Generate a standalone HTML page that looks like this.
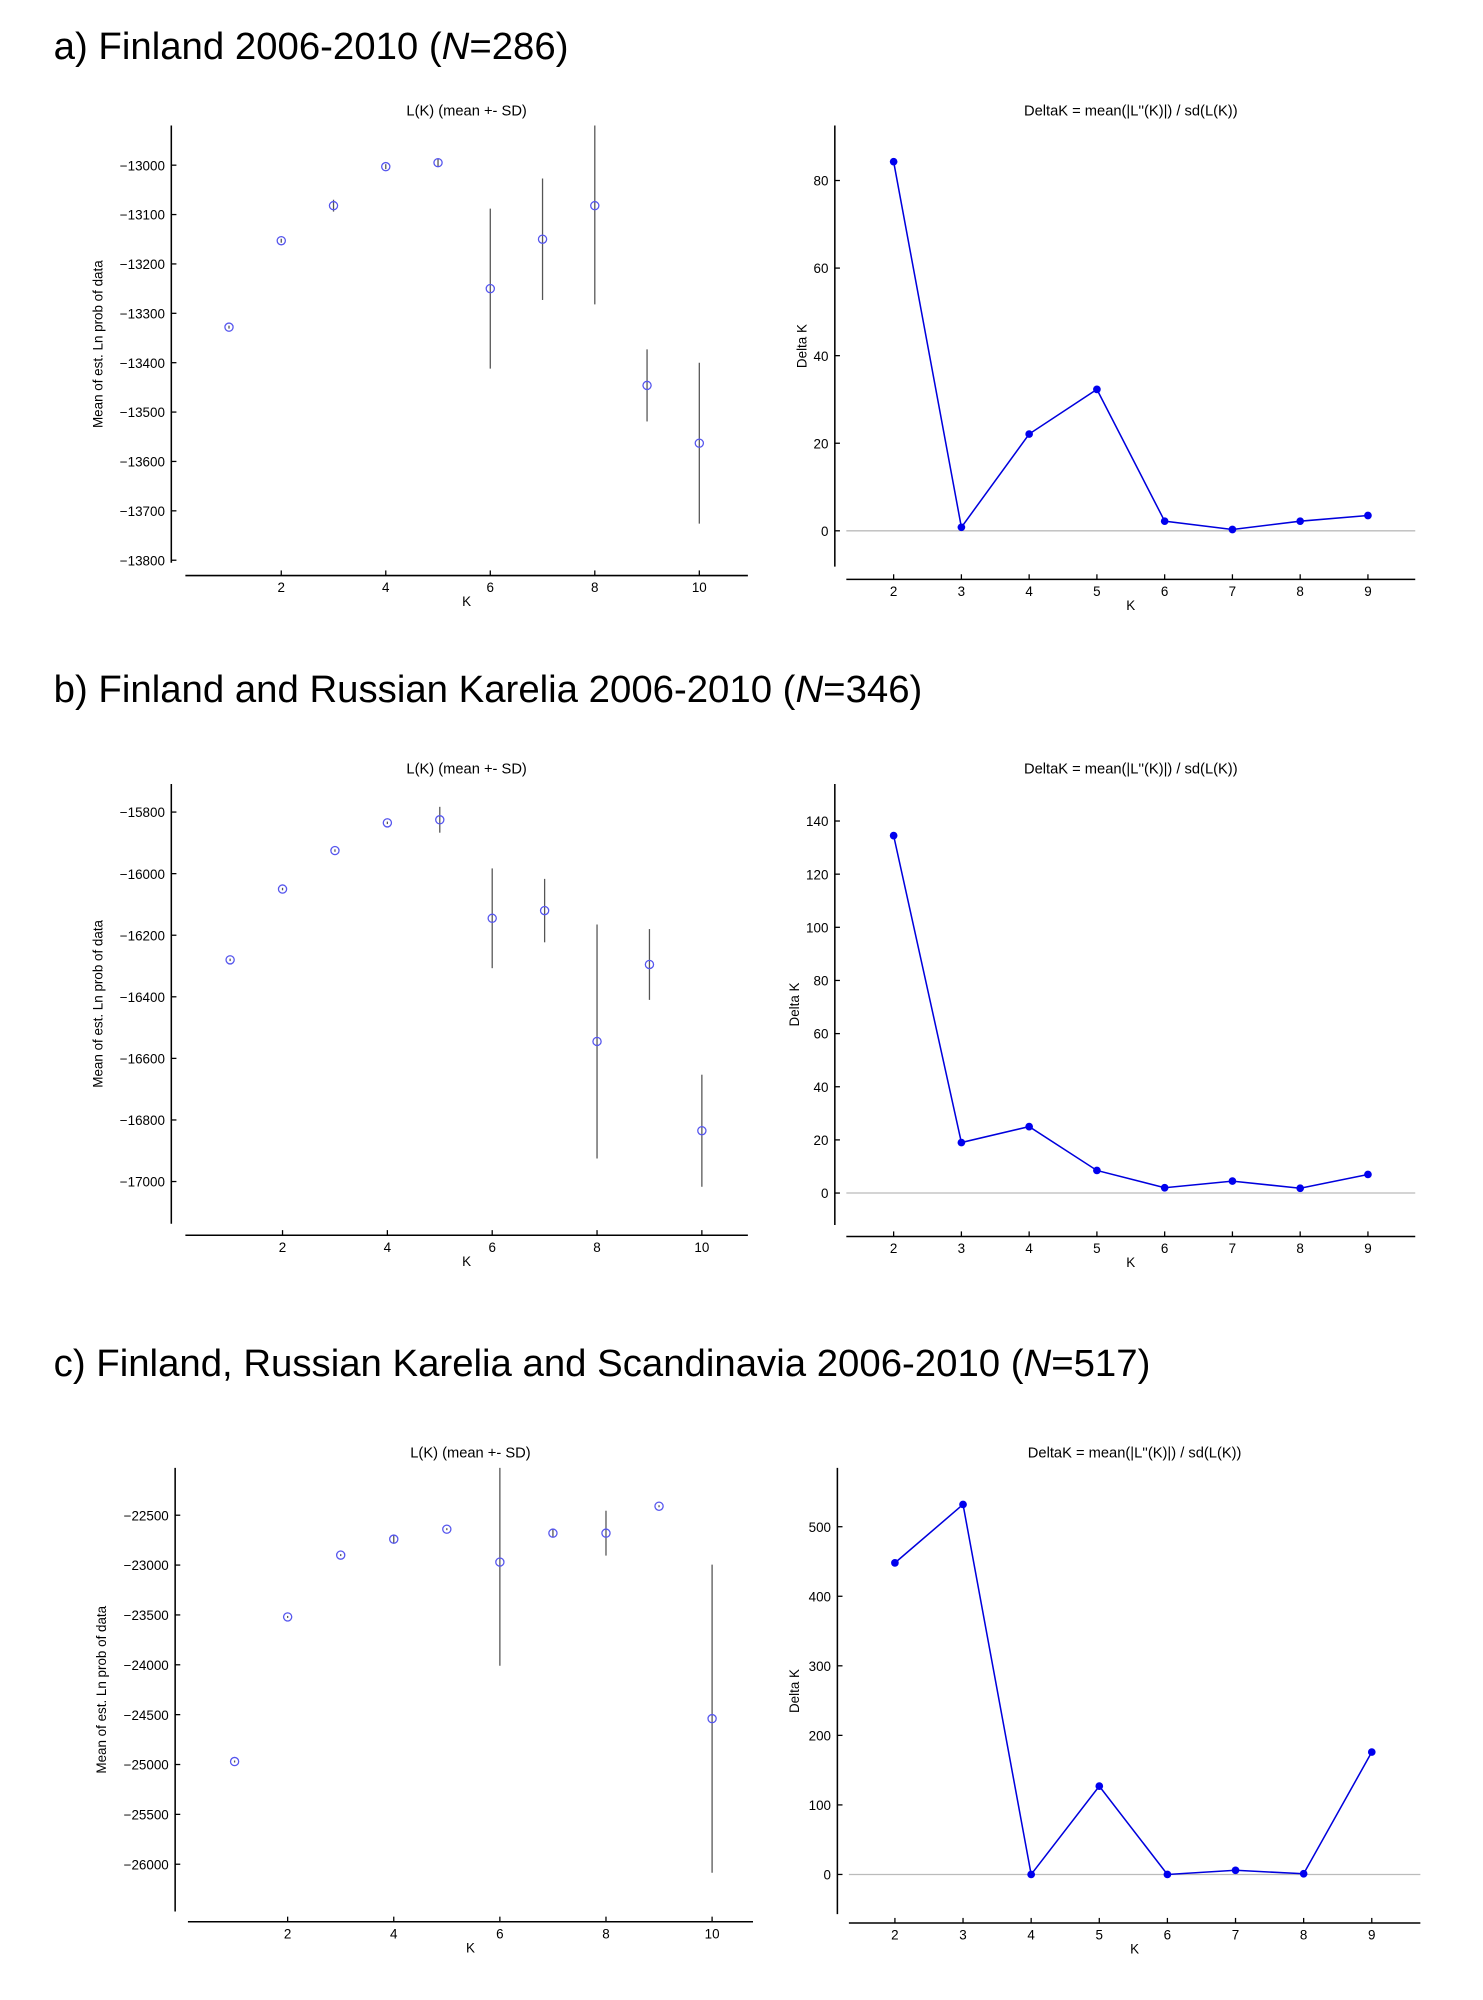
<!DOCTYPE html>
<html><head><meta charset="utf-8"><style>
html,body{margin:0;padding:0;background:#fff;}
svg{display:block;font-family:"Liberation Sans",sans-serif;}
</style></head><body>
<svg id="fig" width="1483" height="2000" viewBox="0 0 1160 1564" xmlns="http://www.w3.org/2000/svg">
<text x="42" y="46" font-size="30">a) Finland 2006-2010 (<tspan font-style="italic">N</tspan>=286)</text>
<text x="42" y="549" font-size="30">b) Finland and Russian Karelia 2006-2010 (<tspan font-style="italic">N</tspan>=346)</text>
<text x="42" y="1076" font-size="30">c) Finland, Russian Karelia and Scandinavia 2006-2010 (<tspan font-style="italic">N</tspan>=517)</text>
</svg>
<script>
// Panel a
const kA = [1,2,3,4,5,6,7,8,9,10];
const meanA = [-13328,-13153,-13082,-13003,-12995,-13250,-13150,-13082,-13446,-13563];
const sdA = [3,4,12,5,8,162,123,200,73,163];
const yTicksA = [-13000,-13100,-13200,-13300,-13400,-13500,-13600,-13700,-13800];
const dkKA = [2,3,4,5,6,7,8,9];
const dkA = [84.3,0.8,22.1,32.3,2.2,0.3,2.2,3.5];
const dkTicksA = [0,20,40,60,80];
// Panel b
const kB = [1,2,3,4,5,6,7,8,9,10];
const meanB = [-16280,-16050,-15925,-15835,-15825,-16145,-16120,-16545,-16295,-16835];
const sdB = [4,4,4,4,42,162,103,380,115,182];
const yTicksB = [-15800,-16000,-16200,-16400,-16600,-16800,-17000];
const dkKB = [2,3,4,5,6,7,8,9];
const dkB = [134.5,19,25,8.5,2,4.5,1.8,7];
const dkTicksB = [0,20,40,60,80,100,120,140];
// Panel c
const kC = [1,2,3,4,5,6,7,8,9,10];
const meanC = [-24970,-23520,-22900,-22740,-22640,-22970,-22680,-22680,-22410,-24540];
const sdC = [10,10,10,45,10,1040,40,225,10,1545];
const yTicksC = [-22500,-23000,-23500,-24000,-24500,-25000,-25500,-26000];
const dkKC = [2,3,4,5,6,7,8,9];
const dkC = [448,532,0,127,0,6,1,176];
const dkTicksC = [0,100,200,300,400,500];

const NS = "http://www.w3.org/2000/svg";
const svg = document.getElementById('fig');
function mk(tag, attrs, parent){const e=document.createElementNS(NS,tag);for(const k in attrs)e.setAttribute(k,attrs[k]);(parent||svg).appendChild(e);return e;}
function lin(d0,d1,r0,r1){return v=>r0+(v-d0)*(r1-r0)/(d1-d0);}

function axesCommon(g,cfg,x,y,xticks,yticks,ylabel,title){
  const ax=mk('line',{x1:cfg.ax,y1:cfg.top,x2:cfg.ax,y2:cfg.bot,stroke:'#000','stroke-width':1.2},g);
  
  const bx=mk('line',{x1:cfg.xl,y1:cfg.xa,x2:cfg.xr,y2:cfg.xa,stroke:'#000','stroke-width':1.2},g);
  
  yticks.forEach(v=>{
    const tk=mk('line',{x1:cfg.ax,y1:y(v),x2:cfg.ax+4,y2:y(v),stroke:'#000'},g);
    
    const t=mk('text',{x:cfg.ax-5,y:y(v)+4,'font-size':10.5,'text-anchor':'end'},g);
    t.textContent=(v<0?'\u2212'+(-v):String(v));
    
  });
  xticks.forEach(v=>{
    const tk=mk('line',{x1:x(v),y1:cfg.xa,x2:x(v),y2:cfg.xa-4,stroke:'#000'},g);
    
    const t=mk('text',{x:x(v),y:cfg.xa+13,'font-size':10.5,'text-anchor':'middle'},g);
    t.textContent=String(v);
    
  });
  const xl=mk('text',{x:(cfg.xl+cfg.xr)/2,y:cfg.xa+24,'font-size':10.5,'text-anchor':'middle'},g);
  xl.textContent='K';
  const cy=(cfg.top+cfg.bot)/2;
  const yl=mk('text',{x:cfg.ylx,y:cy,'font-size':10.5,'text-anchor':'middle',transform:`rotate(-90 ${cfg.ylx} ${cy})`},g);
  yl.textContent=ylabel;
  const tt=mk('text',{x:(cfg.xl+cfg.xr)/2,y:cfg.top-8,'font-size':11.5,'text-anchor':'middle'},g);
  tt.textContent=title;
}

function lkPanel(name,cfg,ks,means,sds,yticks){
  const g=mk('g',{});
  const x=lin(cfg.k0,cfg.k1,cfg.px0,cfg.px1);
  const y=lin(cfg.v0,cfg.v1,cfg.py0,cfg.py1);
  axesCommon(g,cfg,x,y,[2,4,6,8,10],yticks,'Mean of est. Ln prob of data','L(K) (mean +- SD)');
  ks.forEach((k,i)=>{
    const hi=Math.max(cfg.top,y(means[i]+sds[i])), lo=Math.min(cfg.bot,y(means[i]-sds[i]));
    const eb=mk('line',{x1:x(k),y1:hi,x2:x(k),y2:lo,stroke:'#555','stroke-width':1},g);
    
    const c=mk('circle',{cx:x(k),cy:y(means[i]),r:3.2,fill:'none',stroke:'#5555ee','stroke-width':1},g);
    
  });
}

function dkPanel(name,cfg,ks,vals,yticks){
  const g=mk('g',{});
  const x=lin(cfg.k0,cfg.k1,cfg.px0,cfg.px1);
  const y=lin(cfg.v0,cfg.v1,cfg.py0,cfg.py1);
  const z=mk('line',{x1:cfg.xl,y1:y(0),x2:cfg.xr,y2:y(0),stroke:'#bbb','stroke-width':1},g);
  
  axesCommon(g,cfg,x,y,ks,yticks,'Delta K',"DeltaK = mean(|L''(K)|) / sd(L(K))");
  const p=mk('polyline',{points:ks.map((k,i)=>x(k)+','+y(vals[i])).join(' '),fill:'none',stroke:'#0000dd','stroke-width':1.2},g);
  
  ks.forEach((k,i)=>{
    const c=mk('circle',{cx:x(k),cy:y(vals[i]),r:3,fill:'#0000ee'},g);
    
  });
}

lkPanel('lk-chart-a',{ax:134,top:98,bot:440,xa:450,xl:145,xr:585,ylx:80,k0:2,k1:10,px0:220,px1:547,v0:-13000,v1:-13800,py0:129,py1:438},kA,meanA,sdA,yTicksA);
dkPanel('deltak-chart-a',{ax:653,top:98,bot:443,xa:453,xl:662,xr:1107,ylx:631,k0:2,k1:9,px0:699,px1:1070,v0:0,v1:80,py0:415,py1:141},dkKA,dkA,dkTicksA);
lkPanel('lk-chart-b',{ax:134,top:613,bot:957,xa:966,xl:145,xr:585,ylx:80,k0:2,k1:10,px0:221,px1:549,v0:-15800,v1:-17000,py0:635,py1:924},kB,meanB,sdB,yTicksB);
dkPanel('deltak-chart-b',{ax:653,top:613,bot:958,xa:967,xl:662,xr:1107,ylx:625,k0:2,k1:9,px0:699,px1:1070,v0:0,v1:140,py0:933,py1:642},dkKB,dkB,dkTicksB);
lkPanel('lk-chart-c',{ax:137,top:1148,bot:1495,xa:1503,xl:147,xr:589,ylx:83,k0:2,k1:10,px0:225,px1:557,v0:-22500,v1:-26000,py0:1185,py1:1458},kC,meanC,sdC,yTicksC);
dkPanel('deltak-chart-c',{ax:655,top:1148,bot:1497,xa:1504,xl:664,xr:1111,ylx:625,k0:2,k1:9,px0:700,px1:1073,v0:0,v1:500,py0:1466,py1:1194},dkKC,dkC,dkTicksC);
</script>
</body></html>
